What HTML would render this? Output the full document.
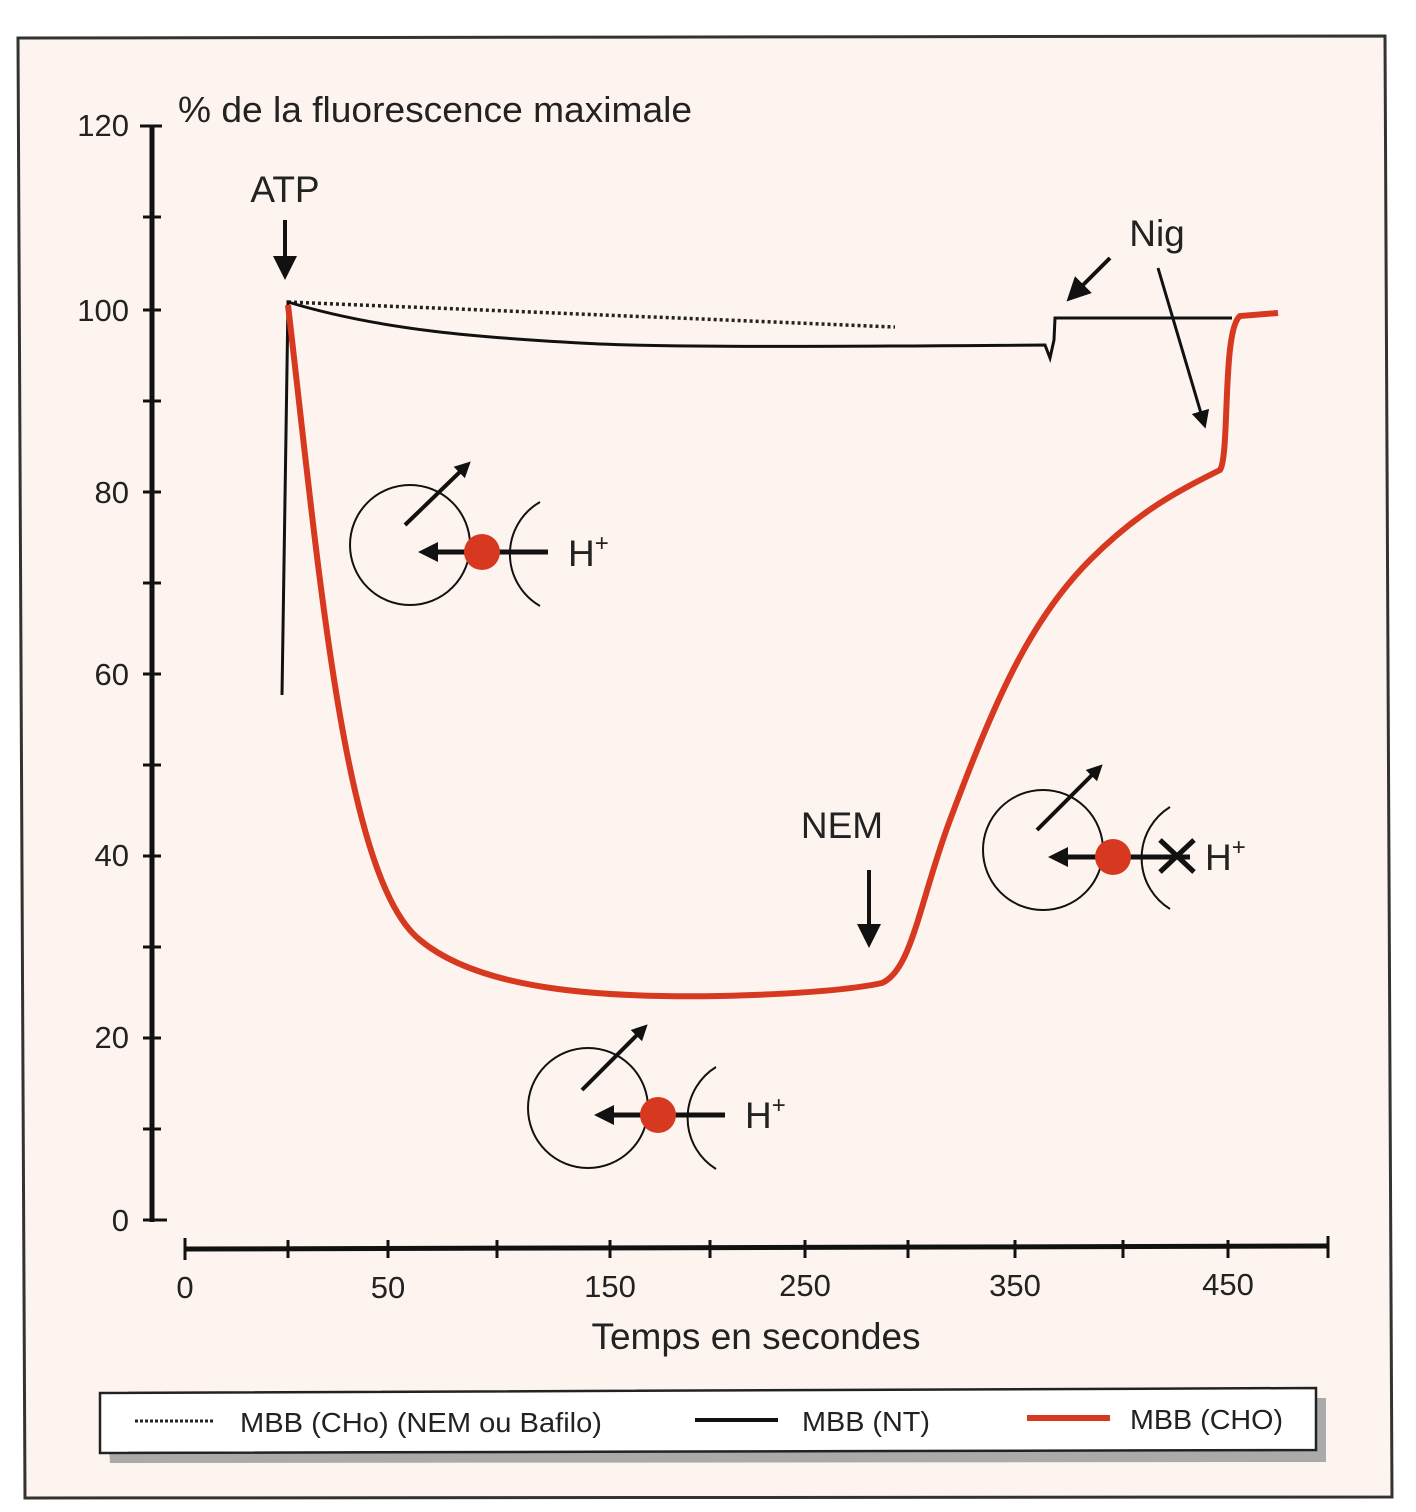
<!DOCTYPE html>
<html><head><meta charset="utf-8"><style>
html,body{margin:0;padding:0;background:#fff;}
svg{display:block;font-family:"Liberation Sans",sans-serif;}
</style></head><body>
<svg width="1416" height="1512" viewBox="0 0 1416 1512">
<polygon points="18,38 1385,36 1392,1497 25,1498" fill="#fdf4ef" stroke="#333" stroke-width="3"/>
<g stroke="#111" stroke-width="5">
<line x1="152" y1="126" x2="152" y2="1222"/>
</g>
<g stroke="#111" stroke-width="3">
<line x1="140" y1="126" x2="162" y2="126"/>
<line x1="143" y1="217" x2="161" y2="217"/>
<line x1="143" y1="310" x2="161" y2="310"/>
<line x1="143" y1="401" x2="161" y2="401"/>
<line x1="143" y1="492" x2="161" y2="492"/>
<line x1="143" y1="583" x2="161" y2="583"/>
<line x1="143" y1="674" x2="161" y2="674"/>
<line x1="143" y1="765" x2="161" y2="765"/>
<line x1="143" y1="856" x2="161" y2="856"/>
<line x1="143" y1="947" x2="161" y2="947"/>
<line x1="143" y1="1038" x2="161" y2="1038"/>
<line x1="143" y1="1129" x2="161" y2="1129"/>
<line x1="143" y1="1220" x2="167" y2="1220"/>
</g>
<g font-size="31" fill="#222" text-anchor="end">
<text x="129" y="136">120</text><text x="129" y="321">100</text><text x="129" y="503">80</text>
<text x="129" y="685">60</text><text x="129" y="866">40</text><text x="129" y="1048">20</text><text x="129" y="1231">0</text>
</g>
<text x="178" y="122" font-size="36" fill="#222" textLength="514" lengthAdjust="spacingAndGlyphs">% de la fluorescence maximale</text>
<line x1="185" y1="1249" x2="1328" y2="1246" stroke="#111" stroke-width="5"/>
<g stroke="#111" stroke-width="3">
<line x1="185" y1="1238" x2="185" y2="1260"/><line x1="288" y1="1240" x2="288" y2="1258"/>
<line x1="388" y1="1240" x2="388" y2="1258"/><line x1="497" y1="1240" x2="497" y2="1258"/>
<line x1="610" y1="1240" x2="610" y2="1258"/><line x1="710" y1="1240" x2="710" y2="1258"/>
<line x1="805" y1="1240" x2="805" y2="1258"/><line x1="908" y1="1240" x2="908" y2="1258"/>
<line x1="1015" y1="1240" x2="1015" y2="1258"/><line x1="1123" y1="1240" x2="1123" y2="1258"/>
<line x1="1228" y1="1240" x2="1228" y2="1258"/><line x1="1328" y1="1236" x2="1328" y2="1258"/>
</g>
<g font-size="31" fill="#222" text-anchor="middle">
<text x="185" y="1298">0</text><text x="388" y="1298">50</text><text x="610" y="1297">150</text>
<text x="805" y="1296">250</text><text x="1015" y="1296">350</text><text x="1228" y="1295">450</text>
</g>
<text x="756" y="1349" font-size="37" fill="#222" text-anchor="middle">Temps en secondes</text>
<path d="M288,302 L895,327" stroke="#222" stroke-width="3.5" stroke-dasharray="3,3" fill="none"/>
<path d="M282,695 L288,302 C380,330 480,338 600,344 C700,348 900,346 1045,345 L1050,358 L1054,340 L1055,318 L1232,318" stroke="#111" stroke-width="3" fill="none"/>
<path d="M288,305 C320,580 345,880 420,940 C480,990 600,998 720,996 C800,994 850,990 882,983 C912,970 920,900 950,820 C995,700 1030,620 1090,560 C1140,510 1180,490 1220,470 C1230,455 1222,330 1240,316 L1278,313" stroke="#d6391f" stroke-width="6" fill="none"/>
<defs><marker id="ah" markerWidth="4" markerHeight="4" refX="2" refY="2" orient="auto"><path d="M0,0 L4,2 L0,4 z" fill="#111"/></marker>
<marker id="ah2" markerWidth="6" markerHeight="6" refX="3" refY="3" orient="auto"><path d="M0,0 L6,3 L0,6 z" fill="#111"/></marker></defs>
<g stroke="#111" stroke-width="4" fill="none">
<line x1="285" y1="220" x2="285" y2="268" marker-end="url(#ah2)"/>
<line x1="869" y1="870" x2="869" y2="936" marker-end="url(#ah2)"/>
<line x1="1110" y1="258" x2="1075" y2="293" marker-end="url(#ah2)"/>
<line x1="1158" y1="268" x2="1203" y2="420" marker-end="url(#ah2)" stroke-width="3"/>
</g>
<g font-size="37" fill="#222" text-anchor="middle">
<text x="285" y="202">ATP</text><text x="1157" y="246">Nig</text><text x="842" y="838">NEM</text>
</g>
<g stroke="#111" fill="none">
<circle cx="410" cy="545" r="60" stroke-width="2"/>
<path d="M540,502 A60,60 0 0 0 540,606" stroke-width="2"/>
<line x1="548" y1="552" x2="428" y2="552" stroke-width="5" marker-end="url(#ah)"/>
<line x1="405" y1="525" x2="465" y2="467" stroke-width="4" marker-end="url(#ah)"/>
<circle cx="482" cy="552" r="18" fill="#d6391f" stroke="none"/>
</g>
<text x="568" y="566" font-size="37" fill="#222">H<tspan font-size="24" dy="-15">+</tspan></text>
<g stroke="#111" fill="none">
<circle cx="588" cy="1108" r="60" stroke-width="2"/>
<path d="M716,1067 A60,60 0 0 0 716,1169" stroke-width="2"/>
<line x1="725" y1="1115" x2="604" y2="1115" stroke-width="5" marker-end="url(#ah)"/>
<line x1="582" y1="1090" x2="642" y2="1030" stroke-width="4" marker-end="url(#ah)"/>
<circle cx="658" cy="1115" r="18" fill="#d6391f" stroke="none"/>
</g>
<text x="745" y="1128" font-size="37" fill="#222">H<tspan font-size="24" dy="-15">+</tspan></text>
<g stroke="#111" fill="none">
<circle cx="1043" cy="850" r="60" stroke-width="2"/>
<path d="M1170,807 A60,60 0 0 0 1170,909" stroke-width="2"/>
<line x1="1190" y1="857" x2="1058" y2="857" stroke-width="5" marker-end="url(#ah)"/>
<line x1="1037" y1="830" x2="1097" y2="770" stroke-width="4" marker-end="url(#ah)"/>
<line x1="1160" y1="840" x2="1194" y2="872" stroke-width="5"/>
<line x1="1160" y1="872" x2="1194" y2="840" stroke-width="5"/>
<circle cx="1113" cy="857" r="18" fill="#d6391f" stroke="none"/>
</g>
<text x="1205" y="870" font-size="37" fill="#222">H<tspan font-size="24" dy="-15">+</tspan></text>
<polygon points="106,1400 1326,1398 1326,1462 110,1463" fill="#aaa"/>
<polygon points="100,1393 1316,1388 1316,1450 100,1453" fill="#fff" stroke="#222" stroke-width="2.5"/>
<g font-size="28" fill="#222">
<line x1="135" y1="1421" x2="215" y2="1421" stroke="#222" stroke-width="3" stroke-dasharray="3,2"/>
<text x="240" y="1432" textLength="362" lengthAdjust="spacingAndGlyphs">MBB (CHo) (NEM ou Bafilo)</text>
<line x1="695" y1="1420" x2="778" y2="1420" stroke="#111" stroke-width="4"/>
<text x="802" y="1431" textLength="128" lengthAdjust="spacingAndGlyphs">MBB (NT)</text>
<line x1="1027" y1="1418" x2="1110" y2="1418" stroke="#d6391f" stroke-width="6"/>
<text x="1130" y="1429" textLength="153" lengthAdjust="spacingAndGlyphs">MBB (CHO)</text>
</g>
</svg>
</body></html>
